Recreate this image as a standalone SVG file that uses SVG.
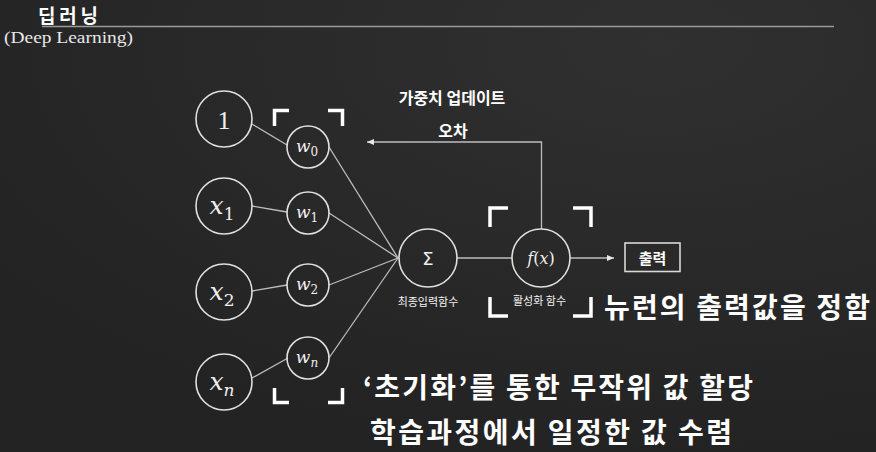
<svg xmlns="http://www.w3.org/2000/svg" width="876" height="452" viewBox="0 0 876 452">
<defs>
<radialGradient id="bg" cx="0.75" cy="0.1" r="0.9">
<stop offset="0" stop-color="#303030"/>
<stop offset="1" stop-color="#232323"/>
</radialGradient>
<marker id="ah" markerWidth="8" markerHeight="8" refX="7" refY="4" orient="auto" markerUnits="userSpaceOnUse">
<path d="M0,1 L7,4 L0,7 Z" fill="#e8e8e8"/>
</marker>
<style>
.c{fill:none;stroke:#e0e0e0;stroke-width:1.6}
.l{fill:none;stroke:#bdbdbd;stroke-width:1.3}
.br{fill:none;stroke:#ffffff;stroke-width:3.5;stroke-linecap:butt}
.m{font-family:"DejaVu Serif","Liberation Serif",serif;font-style:italic;fill:#f0f0f0;text-anchor:middle}
.k{font-family:"Noto Sans CJK KR","Noto Sans",sans-serif;fill:#f2f2f2}
.kb{font-family:"Noto Sans CJK KR","Noto Sans",sans-serif;font-weight:bold;fill:#ffffff}
</style>
</defs>
<rect width="876" height="452" fill="url(#bg)"/>
<g id="title">
<text x="38" y="22.5" class="kb" font-size="19" textLength="60" lengthAdjust="spacing">딥러닝</text>
<line x1="42" y1="26.5" x2="834" y2="26.5" stroke="#9a9a9a" stroke-width="1.5"/>
<text x="4" y="43" font-family="Liberation Serif,serif" font-size="16" fill="#e8e8e8" textLength="129" lengthAdjust="spacingAndGlyphs">(Deep Learning)</text>
</g>
<g id="connectors">
<line class="l" x1="252" y1="124" x2="287" y2="145"/>
<line class="l" x1="252" y1="206" x2="287" y2="212"/>
<line class="l" x1="252" y1="291" x2="287" y2="285"/>
<line class="l" x1="252" y1="378" x2="288" y2="358"/>
<line class="l" x1="329" y1="147" x2="398" y2="258"/>
<line class="l" x1="329" y1="213" x2="398" y2="258"/>
<line class="l" x1="329" y1="285" x2="398" y2="258"/>
<line class="l" x1="329" y1="358" x2="398" y2="258"/>
<line class="l" x1="457" y1="258" x2="512" y2="258"/>
<line class="l" x1="570" y1="258" x2="614" y2="258" marker-end="url(#ah)"/>
<polyline class="l" points="541.5,229 541.5,142 367,142" marker-end="url(#ah)"/>
</g>
<g id="in1"><circle class="c" cx="224" cy="119" r="28"/><text x="224" y="129" font-family="Liberation Serif,serif" font-size="26" fill="#f0f0f0" text-anchor="middle">1</text></g>
<g id="inx1"><circle class="c" cx="224" cy="206" r="28"/><text x="222" y="214" class="m" font-size="25">x<tspan font-size="17" font-style="normal" dy="6">1</tspan></text></g>
<g id="inx2"><circle class="c" cx="224" cy="292" r="28"/><text x="222" y="300" class="m" font-size="25">x<tspan font-size="17" font-style="normal" dy="6">2</tspan></text></g>
<g id="inxn"><circle class="c" cx="224" cy="382" r="28"/><text x="222" y="390" class="m" font-size="25">x<tspan font-size="17" dy="6">n</tspan></text></g>
<g id="w0"><circle class="c" cx="308" cy="147" r="21"/><text x="307" y="152" class="m" font-size="17">w<tspan font-size="12" font-style="normal" dy="4">0</tspan></text></g>
<g id="w1"><circle class="c" cx="308" cy="213" r="21"/><text x="307" y="218" class="m" font-size="17">w<tspan font-size="12" font-style="normal" dy="4">1</tspan></text></g>
<g id="w2"><circle class="c" cx="308" cy="285" r="21"/><text x="307" y="290" class="m" font-size="17">w<tspan font-size="12" font-style="normal" dy="4">2</tspan></text></g>
<g id="wn"><circle class="c" cx="308" cy="358" r="21"/><text x="307" y="363" class="m" font-size="17">w<tspan font-size="12" dy="4">n</tspan></text></g>
<g id="sum"><circle class="c" cx="428" cy="258" r="29"/><text x="428" y="265" font-family="DejaVu Sans,sans-serif" font-size="18" fill="#f0f0f0" text-anchor="middle">Σ</text>
<text x="428" y="306" class="k" font-size="11" text-anchor="middle">최종입력함수</text></g>
<g id="act"><circle class="c" cx="541" cy="258" r="29"/><text x="541" y="264" class="m" font-size="16">f<tspan font-style="normal">(</tspan>x<tspan font-style="normal">)</tspan></text>
<text x="539.5" y="305" class="k" font-size="11" text-anchor="middle">활성화 함수</text></g>
<g id="out"><rect x="625" y="243" width="55" height="28.5" fill="none" stroke="#d8d8d8" stroke-width="1.6"/><text x="652.5" y="264" class="kb" font-size="15" text-anchor="middle">출력</text></g>
<g id="brackets">
<path class="br" d="M274.5,126 V110.5 H289"/>
<path class="br" d="M328,110.5 H342.5 V126"/>
<path class="br" d="M274.5,388 V402.5 H289"/>
<path class="br" d="M328,402.5 H342.5 V388"/>
<path class="br" d="M490,227 V208 H508"/>
<path class="br" d="M573,208 H591 V227"/>
<path class="br" d="M490,297 V316 H508"/>
<path class="br" d="M573,316 H591 V297"/>
</g>
<g id="labels">
<text x="452" y="104" class="kb" font-size="16" text-anchor="middle">가중치 업데이트</text>
<text x="453" y="137" class="kb" font-size="16" text-anchor="middle">오차</text>
<text x="604" y="318" class="kb" font-size="28" textLength="266" lengthAdjust="spacing">뉴런의 출력값을 정함</text>
<text x="363" y="398" class="kb" font-size="28" textLength="390" lengthAdjust="spacing">‘초기화’를 통한 무작위 값 할당</text>
<text x="370" y="443" class="kb" font-size="28" textLength="362" lengthAdjust="spacing">학습과정에서 일정한 값 수렴</text>
</g>
</svg>
